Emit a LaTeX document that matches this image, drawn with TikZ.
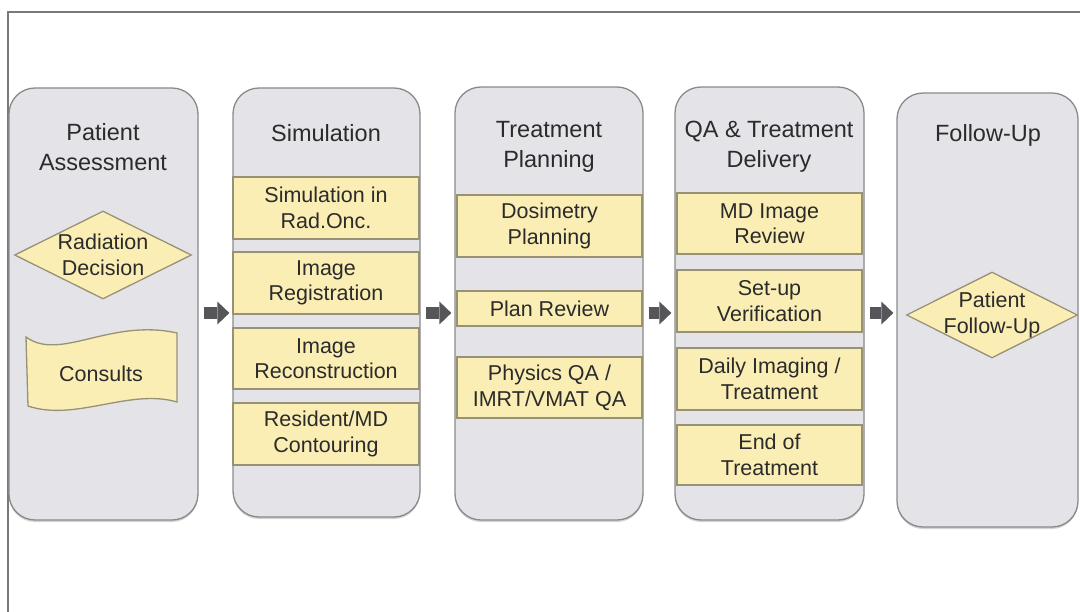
\documentclass[tikz,border=0pt]{standalone}
\usepackage{fontspec}
\setmainfont{Liberation Sans}
\usetikzlibrary{shapes.geometric,arrows.meta,shadows}
\definecolor{colfill}{HTML}{E4E4E8}
\definecolor{colline}{HTML}{8A8A8A}
\definecolor{yfill}{HTML}{FBEEB5}
\definecolor{yline}{HTML}{979176}
\definecolor{arrcol}{HTML}{55555A}
\definecolor{txtcol}{HTML}{2B2B2B}
\definecolor{framecol}{HTML}{7A7A7A}
\begin{document}
\begin{tikzpicture}[x=1pt,y=-1pt,
  column/.style={draw=colline, fill=colfill, line width=1.3pt, rounded corners=26pt, inner sep=0pt,
    drop shadow={opacity=0.35, shadow xshift=0pt, shadow yshift=-2pt}},
  coltitle/.style={font=\fontsize{23.5}{30}\selectfont, text=txtcol, align=center, inner sep=0pt},
  ybox/.style={draw=yline, fill=yfill, line width=1.6pt, inner sep=0pt, font=\fontsize{21.5}{25.5}\selectfont, text=txtcol, align=center},
  ytext/.style={font=\fontsize{21.5}{25.5}\selectfont, text=txtcol, align=center, inner sep=0pt},
  ydiam/.style={diamond, draw=yline, fill=yfill, line width=1.3pt, inner sep=0pt},
  bigarrow/.style={draw=arrcol, line width=12pt, -{Triangle[length=12pt,width=23pt,line width=0pt]}, shorten <=5pt, shorten >=3pt}
]
\useasboundingbox (0,0) rectangle (1080,612);
% frame
\draw[framecol, line width=1.2pt] (8,612) -- (8,12) -- (1080,12);

% columns
\node[column, minimum width=189pt, minimum height=432pt] (c1) at (103.5,304) {};
\node[column, minimum width=187pt, minimum height=429pt] (c2) at (326.5,302.5) {};
\node[column, minimum width=188pt, minimum height=433pt] (c3) at (549,303.5) {};
\node[column, minimum width=189pt, minimum height=433pt] (c4) at (769.5,303.5) {};
\node[column, minimum width=181pt, minimum height=434pt] (c5) at (987.5,310) {};

% titles
\node[coltitle] (t1) at (103,147) {Patient\\Assessment};
\node[coltitle] (t2) at (326,133) {Simulation};
\node[coltitle] (t3) at (549,147) {Treatment\\Planning};
\node[coltitle] (t4) at (769,147) {QA \& Treatment\\Delivery};
\node[coltitle] (t5) at (988,135) {Follow-Up};

% column 1
\node[ydiam, minimum width=177pt, minimum height=88pt] (d1) at (103,255) {};
\node[ytext] (d1t) at (d1) {Radiation\\Decision};
\draw[draw=yline, fill=yfill, line width=1.3pt] (26,337) .. controls (60,362) and (110,318) .. (177,333) -- (177,402) .. controls (130,388) and (75,422) .. (28,406) -- cycle;
\node[ytext] (cons) at (101,374) {Consults};

% column 2
\node[ybox, minimum width=186pt, minimum height=62pt] (b21) at (326,208) {Simulation in\\Rad.Onc.};
\node[ybox, minimum width=186pt, minimum height=62pt] (b22) at (326,283) {Image\\Registration};
\node[ybox, minimum width=186pt, minimum height=61pt] (b23) at (326,358.5) {Image\\Reconstruction};
\node[ybox, minimum width=186pt, minimum height=62pt] (b24) at (326,434) {Resident/MD\\Contouring};

% column 3
\node[ybox, minimum width=185pt, minimum height=62pt] (b31) at (549.5,226) {Dosimetry\\Planning};
\node[ybox, minimum width=185pt, minimum height=35pt] (b32) at (549.5,308.5) {Plan Review};
\node[ybox, minimum width=185pt, minimum height=61pt] (b33) at (549.5,387.5) {Physics QA /\\IMRT/VMAT QA};

% column 4
\node[ybox, minimum width=185pt, minimum height=61pt] (b41) at (769.5,223.5) {MD Image\\Review};
\node[ybox, minimum width=185pt, minimum height=62pt] (b42) at (769.5,301) {Set-up\\Verification};
\node[ybox, minimum width=185pt, minimum height=62pt] (b43) at (769.5,379) {Daily Imaging /\\Treatment};
\node[ybox, minimum width=185pt, minimum height=60pt] (b44) at (769.5,455) {End of\\Treatment};

% column 5
\node[ydiam, minimum width=171pt, minimum height=86pt] (d5) at (992,315) {};
\node[ytext] (d5t) at (d5) {Patient\\Follow-Up};

% arrows
\coordinate (ay) at (0,313);
\draw[bigarrow] (c1.east |- ay) -- (c2.west |- ay);
\draw[bigarrow] (c2.east |- ay) -- (c3.west |- ay);
\draw[bigarrow] (c3.east |- ay) -- (c4.west |- ay);
\draw[bigarrow] (c4.east |- ay) -- (c5.west |- ay);
\end{tikzpicture}
\end{document}
